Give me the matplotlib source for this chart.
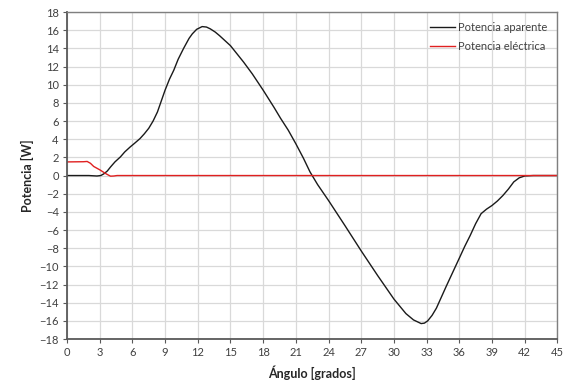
import numpy as np
import matplotlib.pyplot as plt

# angle [deg] and power [W]
ang_ap = [0, 1, 2, 2.75, 3.1, 3.4, 3.7, 4, 4.4, 4.9, 5.3, 5.8, 6.2, 6.7, 7.1, 7.5,
          7.9, 8.3, 8.65, 9, 9.4, 9.8, 10.2, 10.7, 11.2, 11.5, 11.9, 12.4, 12.8,
          13.15, 13.6, 14, 15, 16.2, 17, 18, 19, 19.6, 20.3, 21, 21.7, 22.3, 23,
          24, 25.5, 27, 28.5, 30, 31.1, 31.8, 32.5, 32.8, 33.1, 33.5, 33.9, 34.8,
          36, 36.5, 37, 37.5, 38, 38.5, 39, 39.5, 40, 40.5, 41, 41.5, 42, 42.8, 45]
pot_ap = [0, 0, 0, -0.05, 0.0, 0.2, 0.5, 0.95, 1.5, 2.05, 2.6, 3.15, 3.55, 4.07, 4.6, 5.2,
          6.0, 7.0, 8.2, 9.4, 10.6, 11.6, 12.8, 14.0, 15.1, 15.6, 16.1, 16.4, 16.35,
          16.15, 15.8, 15.4, 14.3, 12.5, 11.2, 9.4, 7.5, 6.3, 5.0, 3.5, 1.9, 0.4, -1.0,
          -2.75, -5.5, -8.3, -11.0, -13.6, -15.2, -15.9, -16.3, -16.25, -16.0, -15.4, -14.6, -12.2,
          -9.1, -7.8, -6.6, -5.3, -4.2, -3.7, -3.3, -2.8, -2.2, -1.5, -0.7, -0.25, -0.05, 0, 0]

ang_el = [0, 1.5, 1.85, 2.15, 2.45, 2.75, 3.05, 3.5, 3.8, 4.0, 4.3, 4.6, 45]
pot_el = [1.5, 1.52, 1.55, 1.35, 1.0, 0.8, 0.6, 0.25, 0.05, -0.07, -0.05, 0, 0]

xticks = np.arange(0, 46, 3)
yticks = np.arange(-18, 19, 2)

plt.rcParams['font.family'] = ['Lato', 'DejaVu Sans']

fig = plt.figure(figsize=(5.63, 3.89), dpi=100)
ax = fig.add_axes([0.119, 0.1285, 0.871, 0.8405])

ax.plot(ang_ap, pot_ap, color='#1a1a1a', lw=1.0, label='Potencia aparente')
ax.plot(ang_el, pot_el, color='#e02020', lw=1.0, label='Potencia eléctrica')

ax.set_xlim(0, 45)
ax.set_ylim(-18, 18)
ax.set_xticks(xticks)
ax.set_yticks(yticks)
ax.grid(True, color='#d9d9d9', lw=0.9)
ax.set_axisbelow(True)
ax.tick_params(labelsize=8, colors='#595959', length=3, direction='out', pad=3)
ax.tick_params(labelcolor='#404040')
for s in ['left', 'bottom']:
    ax.spines[s].set_color('#595959')
    ax.spines[s].set_linewidth(1.3)
for s in ['top', 'right']:
    ax.spines[s].set_color('#7f7f7f')
    ax.spines[s].set_linewidth(1.0)

ax.set_xlabel('Ángulo [grados]', fontsize=9, fontweight='bold', color='#262626', labelpad=5)
ax.set_ylabel('Potencia [W]', fontsize=9, fontweight='bold', color='#262626', labelpad=4)

leg = ax.legend(loc='upper right', frameon=False, fontsize=8, handlelength=2.2,
                handletextpad=0.3, labelspacing=0.7, borderaxespad=0.5)
for t in leg.get_texts():
    t.set_color('#404040')

fig.savefig('out.png', dpi=100)
